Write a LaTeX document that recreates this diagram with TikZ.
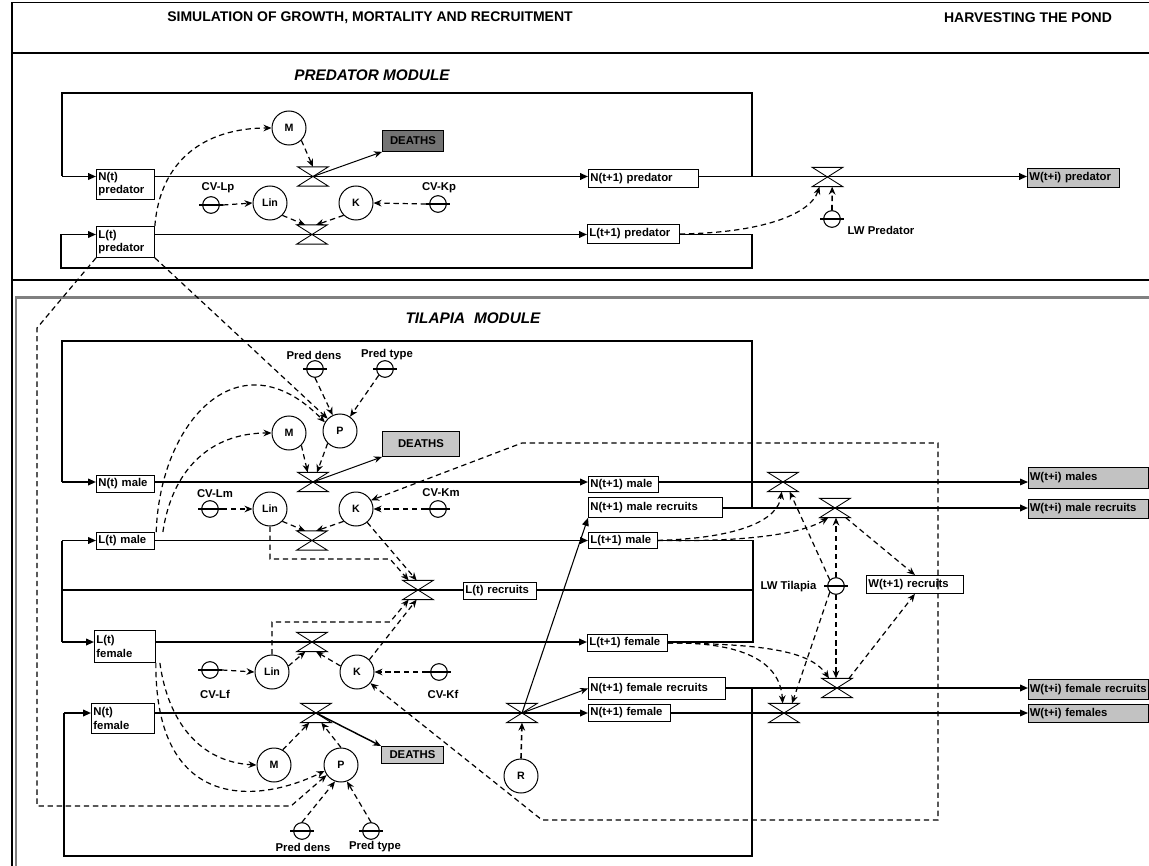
\documentclass[tikz,border=0pt]{standalone}
\usepackage{fontspec}
\setmainfont{Liberation Sans}
\usetikzlibrary{arrows.meta,calc}
\definecolor{wgray}{gray}{0.76}
\definecolor{dgray}{gray}{0.45}
\definecolor{lgray}{gray}{0.78}
\newcommand\lbfont{\fontsize{8.5}{9.8}\selectfont\bfseries}
\newcommand\cfont{\fontsize{8}{9}\selectfont\bfseries}
\newcommand\hfont{\fontsize{10.5}{12}\selectfont\bfseries}
\newcommand\mfont{\fontsize{11.5}{13}\selectfont\bfseries\itshape}
\newcommand\valve[2]{%
  \node[valvebox] (#1) at (#2) {};
  \draw[valveline] (#1.north west) -- (#1.north east) -- (#1.south west) -- (#1.south east) -- cycle;}
\newcommand\param[2]{%
  \node[paramc] (#1) at (#2) {};
  \draw[pline] ([xshift=-9pt]#1.center) -- ([xshift=9pt]#1.center);}
\begin{document}
\begin{tikzpicture}[x=0.75pt,y=-0.75pt,
  flow/.style={line width=1.25pt},
  flowarr/.style={line width=1.25pt,-{Triangle[length=6pt,width=5pt]}},
  harv/.style={line width=0.8pt,-{Triangle[length=6pt,width=5pt]}},
  thinarr/.style={line width=0.75pt,-{Stealth[length=6pt,width=5pt]}},
  dep/.style={line width=0.9pt,dash pattern=on 4pt off 2.8pt,-{Stealth[length=6pt,width=5pt]}},
  depth/.style={line width=1.2pt,dash pattern=on 4pt off 2.8pt,-{Stealth[length=6pt,width=5pt]}},
  box/.style={draw,line width=0.65pt,fill=white,font=\lbfont,inner xsep=1.5pt,inner ysep=0.5pt,align=left,anchor=north west},
  wbox/.style={box,fill=wgray,inner xsep=1pt,text width=88pt},
  circ/.style={circle,draw,line width=0.75pt,fill=white,minimum size=25.5pt,inner sep=0pt,font=\cfont},
  paramc/.style={circle,draw,line width=0.8pt,minimum size=12.5pt,inner sep=0pt},
  pline/.style={line width=1.2pt},
  valvebox/.style={minimum width=22.5pt,minimum height=14pt,inner sep=0pt},
  valveline/.style={line width=0.65pt},
  lbl/.style={font=\lbfont,inner sep=1pt}]
\useasboundingbox (0,0) rectangle (1149,866);
% frame
\draw[line width=1.2pt] (12,866) -- (12,2.5) -- (1149,2.5);
\draw[line width=0.8pt] (12,53) -- (1149,53);
\draw[line width=0.8pt] (12,280) -- (1149,280);
\draw[line width=1.6pt,gray] (16,866) -- (16,297.5) -- (1149,297.5);
% titles
\node[font=\hfont] (title) at (370,18) {SIMULATION OF GROWTH, MORTALITY AND RECRUITMENT};
\node[font=\hfont] (harvt) at (1028,18) {HARVESTING THE POND};
\node[font=\mfont] (predmod) at (372,75) {PREDATOR MODULE};
\node[font=\mfont] (tilmod) at (473,318) {TILAPIA\hspace{0.3em} MODULE};

% ================= PREDATOR MODULE =================
\node[box,text width=40.5pt,minimum height=22.5pt] (Npred) at (96,169) {N(t)\\predator};
\node[box,text width=40.5pt,minimum height=23.25pt] (Lpred) at (96,226) {L(t)\\predator};
\node[box,text width=79.5pt,minimum height=13.5pt] (Npred1) at (588,169) {N(t+1) predator};
\node[box,text width=66pt,minimum height=14.25pt] (Lpred1) at (587,224) {L(t+1) predator};
\node[box,fill=wgray,text width=66pt,minimum height=14.25pt] (Wpred) at (1027,168) {W(t+i) predator};
\node[box,fill=dgray,align=center,text width=42.75pt,minimum height=15.75pt] (Dpred) at (382,130) {DEATHS};
\node[circ] (Mp) at (289,128) {M};
\node[circ] (Linp) at (270,203) {Lin};
\node[circ] (Kp) at (356,203) {K};
\param{CVLp}{211,205}
\param{CVKp}{438,204}
\param{LWp}{832,219}
\node[lbl] (tCVLp) at (218,188) {CV-Lp};
\node[lbl] (tCVKp) at (439,188) {CV-Kp};
\node[lbl,anchor=west] (tLWp) at (846,230) {LW Predator};
\valve{vNp}{313,176.5}
\valve{vLp}{312,234.5}
\valve{vHp}{827.5,177}

\coordinate (pn1) at (752,176.5);
\coordinate (pn2) at (752,93);
\coordinate (pn3) at (62,93);
\coordinate (pn4) at (62,176.5);
\draw[flow] (pn1) -- (pn2) -- (pn3) -- (pn4);
\draw[flowarr] (pn4) -- (pn4 -| Npred.west);
\draw[flowarr] (pn4 -| Npred.east) -- (pn4 -| Npred1.west);
\draw[flow] (pn4 -| Npred1.east) -- (pn1);
\draw[flowarr] (pn1) -- (pn1 -| Wpred.west);
\coordinate (pl1) at (752,234.5);
\coordinate (pl2) at (752,268);
\coordinate (pl3) at (61,268);
\coordinate (pl4) at (61,234.5);
\draw[flow] (pl4 -| Lpred1.east) -- (pl1) -- (pl2) -- (pl3) -- (pl4);
\draw[flowarr] (pl4) -- (pl4 -| Lpred.west);
\draw[flowarr] (pl4 -| Lpred.east) -- (pl4 -| Lpred1.west);
\draw[thinarr] (vNp.center) -- (Dpred.south west);
\draw[dep] (Lpred.north east) .. controls (160,160) and (205,128) .. (Mp.west);
\draw[dep] (Mp.south east) -- (vNp.north);
\draw[dep] ([xshift=9pt]CVLp.center) -- (Linp.west);
\draw[dep] ([xshift=-9pt]CVKp.center) -- (Kp.east);
\draw[dep] (Linp.south east) -- ([xshift=-5pt]vLp.north);
\draw[dep] (Kp.south west) -- ([xshift=3pt]vLp.north);
\draw[dep] (Lpred1.east) .. controls (760,233) and (810,215) .. ([xshift=-6pt]vHp.south);
\draw[depth] (LWp.north) -- ([xshift=3.5pt]vHp.south);

% ================= TILAPIA MODULE =================
\node[box,text width=40.5pt,minimum height=12.75pt] (Nmale) at (96,475) {N(t) male};
\node[box,text width=49.5pt,minimum height=12pt] (Nmale1) at (588,476) {N(t+1) male};
\node[box,text width=97.5pt,minimum height=15pt] (Nmrec) at (588,497) {N(t+1) male recruits};
\node[box,text width=40.5pt,minimum height=12.75pt] (Lmale) at (96,532) {L(t) male};
\node[box,text width=48.75pt,minimum height=12pt] (Lmale1) at (588,532) {L(t+1) male};
\node[box,text width=51.75pt,minimum height=12.75pt] (Lrec) at (463,582) {L(t) recruits};
\node[box,text width=42.75pt,minimum height=24pt] (Lfem) at (94,630) {L(t)\\female};
\node[box,text width=57pt,minimum height=12.75pt] (Lfem1) at (587,634) {L(t+1) female};
\node[box,text width=99.75pt,minimum height=16.5pt] (Nfrec) at (588,677) {N(t+1) female recruits};
\node[box,text width=44.25pt,minimum height=22.5pt] (Nfem) at (91,703) {N(t)\\female};
\node[box,text width=58.5pt,minimum height=12.75pt] (Nfem1) at (588,704) {N(t+1) female};
\node[wbox,minimum height=15.75pt] (Wm) at (1028,467) {W(t+i) males};
\node[wbox,minimum height=14.25pt] (Wmr) at (1028,499) {W(t+i) male recruits};
\node[wbox,minimum height=15pt] (Wfr) at (1028,679) {W(t+i) female recruits};
\node[wbox,minimum height=13.5pt] (Wf) at (1028,704) {W(t+i) females};
\node[box,text width=69.75pt,minimum height=13.5pt] (Wrec) at (866,575) {W(t+1) recruits};
\node[box,fill=lgray,align=center,text width=54.75pt,minimum height=18.75pt] (Dmale) at (382,431) {DEATHS};
\node[box,fill=lgray,align=center,text width=43.5pt,minimum height=12.75pt] (Dfem) at (381,746) {DEATHS};

\node[circ] (Mm) at (289,433) {M};
\node[circ] (Pm) at (340,431) {P};
\node[circ] (Linm) at (270,509) {Lin};
\node[circ] (Km) at (356,509) {K};
\node[circ] (Linf) at (272,672) {Lin};
\node[circ] (Kf) at (357,672) {K};
\node[circ] (Mf) at (274,765) {M};
\node[circ] (Pf) at (341,765) {P};
\node[circ] (R) at (521,776) {R};

\param{PdM}{315,369}
\param{PtM}{385,369}
\param{CVLm}{210,509}
\param{CVKm}{438,509}
\param{LWt}{836,586}
\param{CVLf}{210,670}
\param{CVKf}{439,672}
\param{PdF}{302,831}
\param{PtF}{371,831}
\node[lbl] (tPdM) at (314,355) {Pred dens};
\node[lbl] (tPtM) at (387,355) {Pred type};
\node[lbl] (tCVLm) at (215,494) {CV-Lm};
\node[lbl] (tCVKm) at (441,493) {CV-Km};
\node[lbl,anchor=east] (tLWt) at (818,587) {LW Tilapia};
\node[lbl] (tCVLf) at (215,694) {CV-Lf};
\node[lbl] (tCVKf) at (443,694) {CV-Kf};
\node[lbl] (tPdF) at (303,847) {Pred dens};
\node[lbl] (tPtF) at (375,847) {Pred type};

\valve{vNm}{313,482}
\valve{vLm}{312,540.5}
\valve{vRec}{418,590}
\valve{vLf}{312,642}
\valve{vNf}{316,713}
\valve{vR}{522,713}
\valve{vHm}{783,482}
\valve{vHmr}{835,508}
\valve{vHfr}{837,688}
\valve{vHf}{784,713}

% male N loop
\coordinate (mn1) at (752,508);
\coordinate (mn2) at (752,341);
\coordinate (mn3) at (62,341);
\coordinate (mn4) at (62,482);
\draw[flow] (mn1) -- (mn2) -- (mn3) -- (mn4);
\draw[flowarr] (mn4) -- (mn4 -| Nmale.west);
\draw[flowarr] (mn4 -| Nmale.east) -- (mn4 -| Nmale1.west);
\draw[flow] (mn4 -| Nmale1.east) -- (mn4 -| mn1);
\draw[harv] (mn4 -| mn1) -- (mn4 -| Wm.west);
\draw[flowarr] (mn1 -| Nmrec.east) -- (mn1 -| Wmr.west);
% L loop
\coordinate (la) at (62,540.5);
\coordinate (lb) at (62,642);
\coordinate (lc) at (62,590);
\coordinate (ra) at (753,540.5);
\coordinate (rb) at (753,642);
\coordinate (rc) at (753,590);
\draw[flow] (la) -- (lb);
\draw[flowarr] (la) -- (la -| Lmale.west);
\draw[flowarr] (lb) -- (lb -| Lfem.west);
\draw[flowarr] (la -| Lmale.east) -- (la -| Lmale1.west);
\draw[flowarr] (lb -| Lfem.east) -- (lb -| Lfem1.west);
\draw[flow] (lc) -- (lc -| Lrec.west);
\draw[flow] (lc -| Lrec.east) -- (rc);
\draw[flow] (la -| Lmale1.east) -- (ra) -- (rb) -- (rb -| Lfem1.east);
% female N loop
\coordinate (fn1) at (752,688);
\coordinate (fn2) at (752,856);
\coordinate (fn3) at (64,856);
\coordinate (fn4) at (64,713);
\draw[flow] (fn1) -- (fn2) -- (fn3) -- (fn4);
\draw[flowarr] (fn4) -- (fn4 -| Nfem.west);
\draw[flowarr] (fn4 -| Nfem.east) -- (fn4 -| Nfem1.west);
\draw[flow] (fn4 -| Nfem1.east) -- (fn4 -| fn1);
\draw[harv] (fn4 -| fn1) -- (fn4 -| Wf.west);
\draw[flowarr] (fn1 -| Nfrec.east) -- (fn1 -| Wfr.west);
% recruitment
\draw[harv] (vR.center) -- (Nmrec.south west);
\draw[thinarr] (vR.center) -- (Nfrec.west);
\draw[depth] (R.north) -- (vR.south);
% deaths
\draw[thinarr] (vNm.center) -- (Dmale.south west);
\draw[thinarr,line width=1.1pt] (vNf.center) -- (Dfem.north west);

% predator links into tilapia
\draw[dep] (Lpred.south west) -- (37,328) -- (37,806) -- (291,806) -- (Pf.215);
\draw[dep] (Lpred.south east) -- (Pm.north west);

% male dependencies
\draw[dep] (PdM.south) -- (Pm.115);
\draw[dep] (PtM.south west) -- (Pm.55);
\draw[dep] ([xshift=1pt]Lmale.north east) .. controls (160,420) and (240,335) .. (Pm.150);
\draw[dep] ([xshift=6pt]Lmale.north east) .. controls (172,470) and (210,433) .. (Mm.west);
\draw[dep] (Mm.south east) -- ([xshift=-4pt]vNm.north);
\draw[dep] (Pm.south west) -- ([xshift=3pt]vNm.north);
\draw[dep] ([xshift=9pt]CVLm.center) -- (Linm.west);
\draw[dep] ([xshift=-9pt]CVKm.center) -- (Km.east);
\draw[dep] (Linm.south east) -- ([xshift=-5pt]vLm.north);
\draw[dep] (Km.south west) -- ([xshift=3pt]vLm.north);
\draw[dep] (Linm.south) -- (270,559) -- (390,559) -- ([xshift=-7pt]vRec.north);
\draw[dep] (Km.-50) -- ([xshift=-1pt]vRec.north);

% female dependencies
\draw[dep] ([xshift=9pt]CVLf.center) -- (Linf.west);
\draw[dep] ([xshift=-9pt]CVKf.center) -- (Kf.east);
\draw[dep] (Linf.20) -- ([xshift=-5pt]vLf.south);
\draw[dep] (Kf.160) -- ([xshift=3pt]vLf.south);
\draw[dep] (Linf.north) -- (272,622) -- (390,622) -- ([xshift=-7pt]vRec.south);
\draw[dep] (Kf.north east) -- ([xshift=-1pt]vRec.south);
\draw[dep] ([xshift=3pt]Lfem.south east) .. controls (168,722) and (200,762) .. (Mf.west);
\draw[dep] (Lfem.south east) .. controls (155,810) and (255,805) .. (Pf.200);
\draw[dep] (Mf.60) -- ([xshift=-5pt]vNf.south);
\draw[dep] (Pf.north) -- ([xshift=4pt]vNf.south);
\draw[dep] (PdF.north) -- (Pf.250);
\draw[dep] (PtF.north) -- (Pf.290);

% recruit density feedback to K
\coordinate (kc) at (938,584);
\draw[dep] (kc) -- (938,443) -- (522,443) -- (Km.30);
\draw[dep] (kc) -- (938,820) -- (542,820) -- (Kf.-40);

% harvesting dependencies
\draw[dep] (Lmale1.east) .. controls (740,538) and (778,520) .. ([xshift=-1pt]vHm.south);
\draw[dep] (Lmale1.east) .. controls (740,542) and (800,535) .. ([xshift=-5pt]vHmr.south);
\draw[depth] (LWt.north) -- ([xshift=0.75pt]vHmr.south);
\draw[dep] (LWt.north west) -- ([xshift=5pt]vHm.south);
\draw[depth] (LWt.south) -- ([xshift=-0.75pt]vHfr.north);
\draw[dep] (LWt.south west) -- ([xshift=6pt]vHf.north);
\draw[dep] (Lfem1.east) .. controls (740,642) and (780,660) .. ([xshift=-1pt]vHf.north);
\draw[dep] (Lfem1.east) .. controls (760,644) and (810,650) .. ([xshift=-6pt]vHfr.north);
\draw[dep] ([xshift=8pt]vHmr.south) -- (Wrec.north);
\draw[dep] ([xshift=9pt]vHfr.north) -- (Wrec.south);
\end{tikzpicture}
\end{document}
